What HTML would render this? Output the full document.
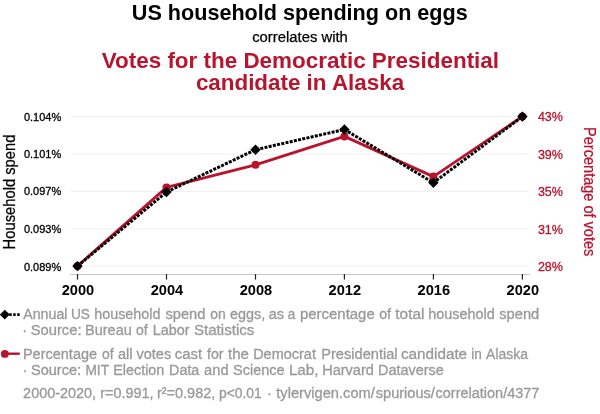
<!DOCTYPE html>
<html>
<head>
<meta charset="utf-8">
<style>
html,body{margin:0;padding:0;background:#fff;}
body{width:600px;height:414px;overflow:hidden;}
svg{display:block;}
text{font-family:"Liberation Sans",Arial,Helvetica,sans-serif;}
</style>
</head>
<body>
<svg width="600" height="414" viewBox="0 0 600 414">
<rect width="600" height="414" fill="#fff"/>
<!-- titles -->
<text x="299.8" y="19.5" text-anchor="middle" font-size="21.6" font-weight="bold" fill="#000">US household spending on eggs</text>
<text x="300" y="41.5" text-anchor="middle" font-size="14.85" fill="#000" stroke="#000" stroke-width="0.25">correlates with</text>
<text x="300.4" y="67.5" text-anchor="middle" font-size="22.45" font-weight="bold" fill="#b8142e">Votes for the Democratic Presidential</text>
<text x="300" y="89.6" text-anchor="middle" font-size="22.4" font-weight="bold" fill="#b8142e">candidate in Alaska</text>

<!-- gridlines -->
<g stroke="#efefef" stroke-width="1">
<line x1="71" y1="116.7" x2="528" y2="116.7"/>
<line x1="71" y1="154.05" x2="528" y2="154.05"/>
<line x1="71" y1="191.4" x2="528" y2="191.4"/>
<line x1="71" y1="228.75" x2="528" y2="228.75"/>
<line x1="71" y1="266.1" x2="528" y2="266.1"/>
</g>
<!-- x axis -->
<line x1="70" y1="274.5" x2="530" y2="274.5" stroke="#c8c8c8" stroke-width="1"/>
<g stroke="#222" stroke-width="1.2">
<line x1="77.5" y1="274" x2="77.5" y2="279.6"/>
<line x1="166.5" y1="274" x2="166.5" y2="279.6"/>
<line x1="255.5" y1="274" x2="255.5" y2="279.6"/>
<line x1="344.4" y1="274" x2="344.4" y2="279.6"/>
<line x1="433.4" y1="274" x2="433.4" y2="279.6"/>
<line x1="522.4" y1="274" x2="522.4" y2="279.6"/>
</g>
<g font-size="14.6" font-weight="bold" fill="#000" text-anchor="middle" transform="translate(0,295)">
<text x="77.9" y="0">2000</text>
<text x="166.9" y="0">2004</text>
<text x="255.9" y="0">2008</text>
<text x="344.8" y="0">2012</text>
<text x="433.8" y="0">2016</text>
<text x="522.8" y="0">2020</text>
</g>
<!-- left axis labels -->
<g font-size="11" fill="#000" text-anchor="end" stroke="#000" stroke-width="0.3">
<text x="61.2" y="120.6">0.104%</text>
<text x="61.2" y="158">0.101%</text>
<text x="61.2" y="195.3">0.097%</text>
<text x="61.2" y="232.7">0.093%</text>
<text x="61.2" y="270.8">0.089%</text>
</g>
<!-- right axis labels -->
<g font-size="12.5" fill="#b8142e" text-anchor="start" stroke="#b8142e" stroke-width="0.3">
<text x="537.9" y="120.7">43%</text>
<text x="537.9" y="159">39%</text>
<text x="537.9" y="195.8">35%</text>
<text x="537.9" y="233.8">31%</text>
<text x="537.9" y="270.8">28%</text>
</g>
<!-- axis titles -->
<text transform="translate(15,192) rotate(-90)" text-anchor="middle" font-size="15.6" fill="#000" stroke="#000" stroke-width="0.25" textLength="114.9" lengthAdjust="spacingAndGlyphs">Household spend</text>
<text transform="translate(583.8,191.7) rotate(90)" text-anchor="middle" font-size="15.6" fill="#b8142e" stroke="#b8142e" stroke-width="0.25" textLength="129.2" lengthAdjust="spacingAndGlyphs">Percentage of votes</text>

<!-- red series -->
<polyline fill="none" stroke="#b8142e" stroke-width="2.8" stroke-linejoin="round"
 points="77.5,266 166.5,187.4 255.5,164.8 344.4,136.4 433.4,176.6 522.4,116.5"/>
<g fill="#b8142e">
<circle cx="77.5" cy="266" r="4"/>
<circle cx="166.5" cy="187.4" r="4"/>
<circle cx="255.5" cy="164.8" r="4"/>
<circle cx="344.4" cy="136.4" r="4"/>
<circle cx="433.4" cy="176.6" r="4"/>
<circle cx="522.4" cy="116.5" r="4"/>
</g>
<!-- black series -->
<polyline fill="none" stroke="#000" stroke-width="3" stroke-dasharray="3 1.3"
 points="77.5,266.1 166.5,192 255.5,149.7 344.4,129.5 433.4,182.7 522.4,116.6"/>
<g fill="#000">
<path d="M77.5 260.90 L82.70 266.1 L77.5 271.30 L72.30 266.1Z"/>
<path d="M166.5 186.80 L171.70 192.0 L166.5 197.20 L161.30 192.0Z"/>
<path d="M255.5 144.50 L260.70 149.7 L255.5 154.90 L250.30 149.7Z"/>
<path d="M344.4 124.30 L349.60 129.5 L344.4 134.70 L339.20 129.5Z"/>
<path d="M433.4 177.50 L438.60 182.7 L433.4 187.90 L428.20 182.7Z"/>
<path d="M522.4 111.40 L527.60 116.6 L522.4 121.80 L517.20 116.6Z"/>
</g>

<!-- legend -->
<line x1="9.2" y1="314.6" x2="20" y2="314.6" stroke="#000" stroke-width="2.6" stroke-dasharray="2.5 1.5"/>
<path d="M4.8 309.7 L9.7 314.6 L4.8 319.5 L-0.1 314.6Z" fill="#000"/>
<line x1="5" y1="353.7" x2="19.8" y2="353.7" stroke="#b8142e" stroke-width="2.4"/>
<circle cx="4.8" cy="353.9" r="3.9" fill="#b8142e"/>
<g font-size="14.5" fill="#999" stroke="#999" stroke-width="0.3">
<text transform="translate(0,319) scale(1,1.055)"><tspan x="23.27" textLength="44.18" lengthAdjust="spacingAndGlyphs">Annual</tspan> <tspan x="70.99" textLength="18.89" lengthAdjust="spacingAndGlyphs">US</tspan> <tspan x="94.15" textLength="66.43" lengthAdjust="spacingAndGlyphs">household</tspan> <tspan x="165.44" textLength="39.95" lengthAdjust="spacingAndGlyphs">spend</tspan> <tspan x="210.16" textLength="15.50" lengthAdjust="spacingAndGlyphs">on</tspan> <tspan x="230.04" textLength="35.31" lengthAdjust="spacingAndGlyphs">eggs,</tspan> <tspan x="268.73" textLength="15.39" lengthAdjust="spacingAndGlyphs">as</tspan> <tspan x="287.87" textLength="7.51" lengthAdjust="spacingAndGlyphs">a</tspan> <tspan x="299.99" textLength="74.72" lengthAdjust="spacingAndGlyphs">percentage</tspan> <tspan x="379.15" textLength="11.93" lengthAdjust="spacingAndGlyphs">of</tspan> <tspan x="395.33" textLength="29.04" lengthAdjust="spacingAndGlyphs">total</tspan> <tspan x="428.35" textLength="66.43" lengthAdjust="spacingAndGlyphs">household</tspan> <tspan x="499.24" textLength="40.05" lengthAdjust="spacingAndGlyphs">spend</tspan></text>
<text transform="translate(0,334.9) scale(1,1.055)"><tspan x="22.28">·</tspan> <tspan x="30.68" textLength="50.81" lengthAdjust="spacingAndGlyphs">Source:</tspan> <tspan x="85.06">Bureau</tspan> <tspan x="136.06" textLength="11.68" lengthAdjust="spacingAndGlyphs">of</tspan> <tspan x="152.77" textLength="36.87" lengthAdjust="spacingAndGlyphs">Labor</tspan> <tspan x="193.93" textLength="60.46" lengthAdjust="spacingAndGlyphs">Statistics</tspan></text>
<text transform="translate(0,358.8) scale(1,1.055)"><tspan x="22.96">Percentage</tspan> <tspan x="102.06" textLength="11.68" lengthAdjust="spacingAndGlyphs">of</tspan> <tspan x="117.93" textLength="14.59" lengthAdjust="spacingAndGlyphs">all</tspan> <tspan x="136.50">votes</tspan> <tspan x="174.82" textLength="27.23" lengthAdjust="spacingAndGlyphs">cast</tspan> <tspan x="207.05" textLength="16.44" lengthAdjust="spacingAndGlyphs">for</tspan> <tspan x="228.03" textLength="20.88" lengthAdjust="spacingAndGlyphs">the</tspan> <tspan x="253.16">Democrat</tspan> <tspan x="321.15" textLength="76.48" lengthAdjust="spacingAndGlyphs">Presidential</tspan> <tspan x="401.01" textLength="66.11" lengthAdjust="spacingAndGlyphs">candidate</tspan> <tspan x="471.23" textLength="10.61" lengthAdjust="spacingAndGlyphs">in</tspan> <tspan x="486.12" textLength="41.94" lengthAdjust="spacingAndGlyphs">Alaska</tspan></text>
<text transform="translate(0,374.7) scale(1,1.055)"><tspan x="22.43">·</tspan> <tspan x="30.94" textLength="50.14" lengthAdjust="spacingAndGlyphs">Source:</tspan> <tspan x="85.42" textLength="23.66" lengthAdjust="spacingAndGlyphs">MIT</tspan> <tspan x="113.27" textLength="51.01" lengthAdjust="spacingAndGlyphs">Election</tspan> <tspan x="169.07" textLength="30.28" lengthAdjust="spacingAndGlyphs">Data</tspan> <tspan x="204.13" textLength="24.41" lengthAdjust="spacingAndGlyphs">and</tspan> <tspan x="233.04">Science</tspan> <tspan x="288.91" textLength="29.49" lengthAdjust="spacingAndGlyphs">Lab,</tspan> <tspan x="322.26">Harvard</tspan> <tspan x="378.07" textLength="65.73" lengthAdjust="spacingAndGlyphs">Dataverse</tspan></text>
<text transform="translate(0,397.7) scale(1,1.055)"><tspan x="23.12" textLength="73.02" lengthAdjust="spacingAndGlyphs">2000-2020,</tspan> <tspan x="100.19" textLength="53.25" lengthAdjust="spacingAndGlyphs">r=0.991,</tspan> <tspan x="156.89">r²=0.982,</tspan> <tspan x="218.95" textLength="42.89" lengthAdjust="spacingAndGlyphs">p&lt;0.01</tspan> <tspan x="267.13">·</tspan> <tspan x="276.23" textLength="98.62" lengthAdjust="spacingAndGlyphs">tylervigen.com/</tspan><tspan x="375.75" textLength="59.10" lengthAdjust="spacingAndGlyphs">spurious/</tspan><tspan x="435.53">correlation/4377</tspan></text>
</g>
</svg>
</body>
</html>
